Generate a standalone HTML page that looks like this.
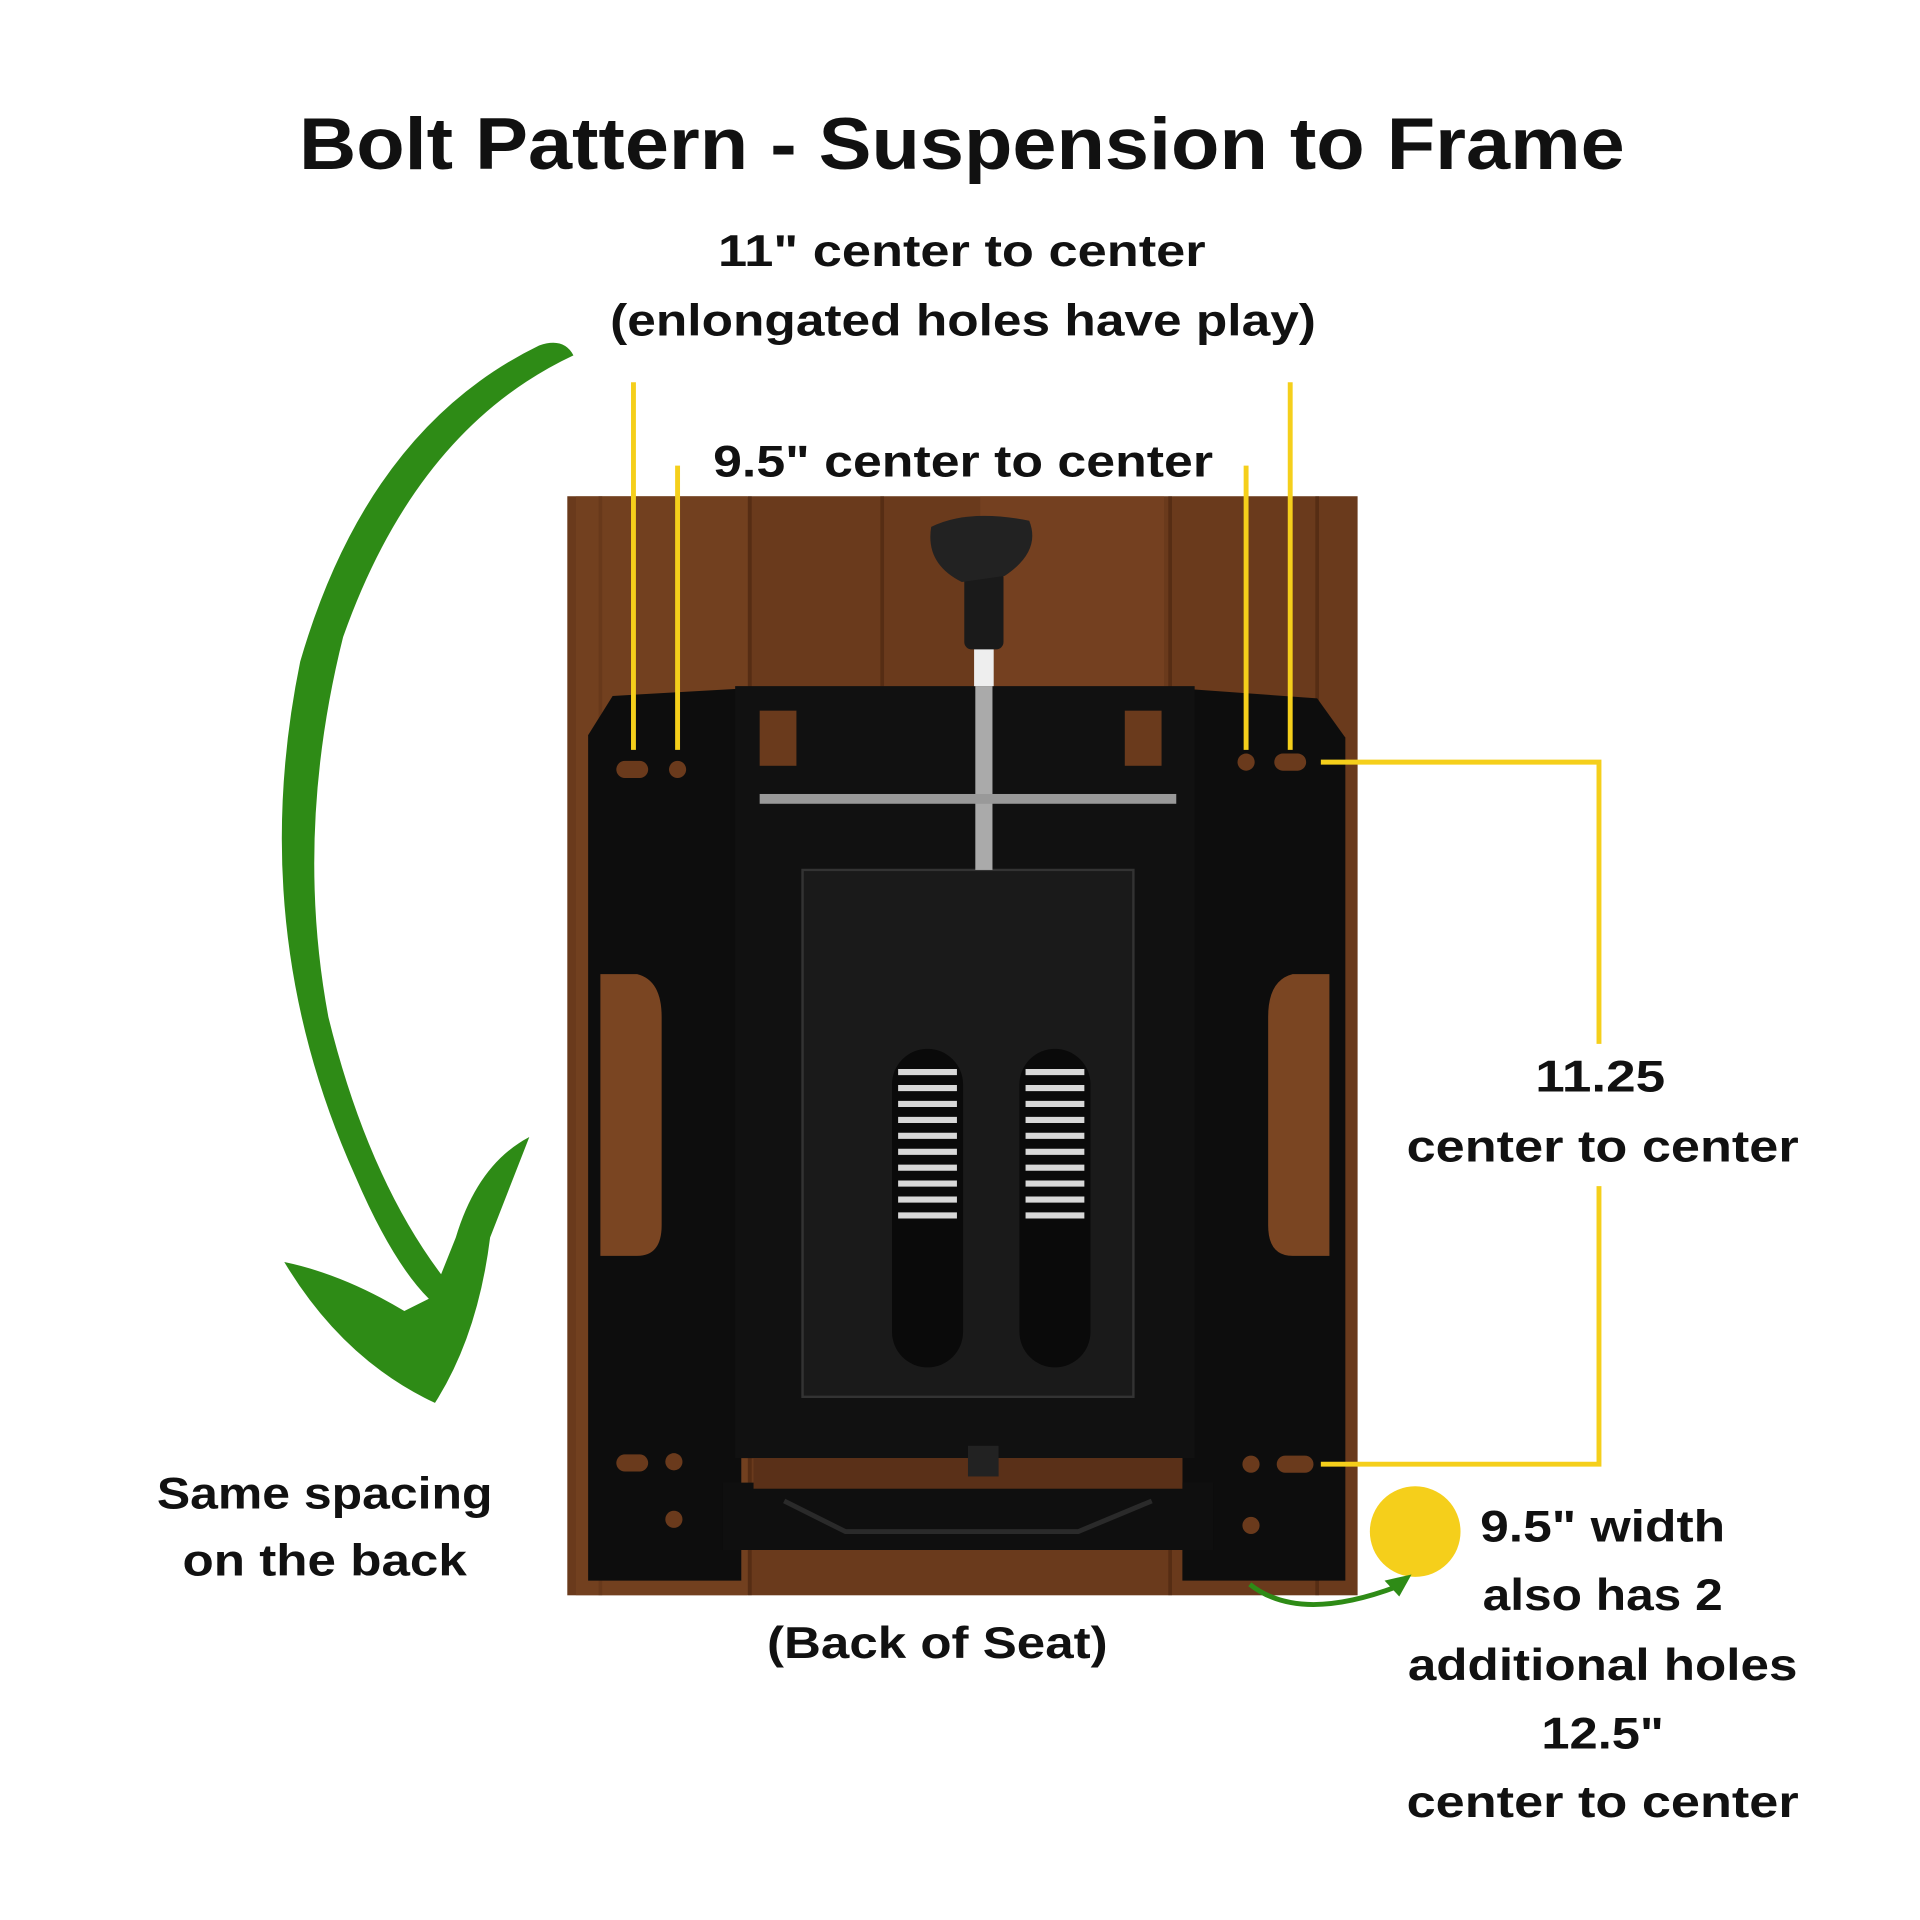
<!DOCTYPE html>
<html><head><meta charset="utf-8"><style>html,body{margin:0;padding:0;background:#fff}svg{display:block}</style></head>
<body>
<svg width="1920" height="1920" viewBox="0 0 1567 1567" xmlns="http://www.w3.org/2000/svg">
<rect width="1567" height="1567" fill="#fff"/>
<g font-family="Liberation Sans, DejaVu Sans, sans-serif" font-weight="bold" fill="#111" text-anchor="middle">
<text x="785" y="138" font-size="60" textLength="1082" lengthAdjust="spacingAndGlyphs">Bolt Pattern - Suspension to Frame</text>
<text x="785" y="217" font-size="36" textLength="398" lengthAdjust="spacingAndGlyphs">11" center to center</text>
<text x="786" y="274" font-size="36" textLength="576" lengthAdjust="spacingAndGlyphs">(enlongated holes have play)</text>
<text x="786" y="389" font-size="36" textLength="408" lengthAdjust="spacingAndGlyphs">9.5" center to center</text>
<text x="1306" y="891" font-size="36" textLength="106" lengthAdjust="spacingAndGlyphs">11.25</text>
<text x="1308" y="948" font-size="36" textLength="320" lengthAdjust="spacingAndGlyphs">center to center</text>
<text x="1308" y="1258" font-size="36" textLength="200" lengthAdjust="spacingAndGlyphs">9.5" width</text>
<text x="1308" y="1314" font-size="36" textLength="196" lengthAdjust="spacingAndGlyphs">also has 2</text>
<text x="1308" y="1371" font-size="36" textLength="318" lengthAdjust="spacingAndGlyphs">additional holes</text>
<text x="1308" y="1427" font-size="36" textLength="100" lengthAdjust="spacingAndGlyphs">12.5"</text>
<text x="1308" y="1483" font-size="36" textLength="320" lengthAdjust="spacingAndGlyphs">center to center</text>
<text x="765" y="1353" font-size="36" textLength="278" lengthAdjust="spacingAndGlyphs">(Back of Seat)</text>
<text x="265" y="1231" font-size="36" textLength="274" lengthAdjust="spacingAndGlyphs">Same spacing</text>
<text x="265" y="1286" font-size="36" textLength="232" lengthAdjust="spacingAndGlyphs">on the back</text>
</g>
<rect x="463" y="405" width="645" height="897" fill="#6a3a1c"/>
<g stroke="#4a2510" stroke-width="3" opacity="0.6">
<line x1="490" y1="405" x2="490" y2="1302"/><line x1="612" y1="405" x2="612" y2="1302"/>
<line x1="720" y1="405" x2="720" y2="560"/><line x1="955" y1="405" x2="955" y2="1302"/><line x1="1075" y1="405" x2="1075" y2="1302"/>
</g>
<rect x="470" y="405" width="140" height="897" fill="#7a4522" opacity="0.5"/>
<rect x="800" y="405" width="150" height="160" fill="#7d4624" opacity="0.5"/>
<path d="M480 600 L500 568 L605 562 L605 1290 L480 1290 Z" fill="#0d0d0d"/>
<path d="M965 562 L1075 570 L1098 602 L1098 1290 L965 1290 Z" fill="#0d0d0d"/>
<path d="M600 560 L975 560 L975 1190 L600 1190 Z" fill="#111"/>
<path d="M590 1210 L990 1210 L990 1265 L590 1265 Z" fill="#0f0f0f"/>
<path d="M640 1225 L690 1250 L880 1250 L940 1225" fill="none" stroke="#2a2a2a" stroke-width="4"/>
<rect x="615" y="1190" width="350" height="25" fill="#5a3018"/>
<path d="M490 795 L520 795 Q540 800 540 830 L540 1000 Q540 1025 520 1025 L490 1025 Z" fill="#7a4522"/>
<path d="M1085 795 L1055 795 Q1035 800 1035 830 L1035 1000 Q1035 1025 1055 1025 L1085 1025 Z" fill="#7a4522"/>
<rect x="620" y="580" width="30" height="45" fill="#6a3a1c"/><rect x="918" y="580" width="30" height="45" fill="#6a3a1c"/>
<path d="M655 710 L925 710 L925 1140 L655 1140 Z" fill="#1a1a1a" stroke="#333" stroke-width="2"/>
<rect x="728" y="856" width="58" height="260" rx="29" fill="#0a0a0a"/>
<rect x="832" y="856" width="58" height="260" rx="29" fill="#0a0a0a"/>
<g stroke="#d8d8d8" stroke-width="5">
<line x1="733" y1="875" x2="781" y2="875"/><line x1="733" y1="888" x2="781" y2="888"/><line x1="733" y1="901" x2="781" y2="901"/><line x1="733" y1="914" x2="781" y2="914"/><line x1="733" y1="927" x2="781" y2="927"/><line x1="733" y1="940" x2="781" y2="940"/><line x1="733" y1="953" x2="781" y2="953"/><line x1="733" y1="966" x2="781" y2="966"/><line x1="733" y1="979" x2="781" y2="979"/><line x1="733" y1="992" x2="781" y2="992"/>
<line x1="837" y1="875" x2="885" y2="875"/><line x1="837" y1="888" x2="885" y2="888"/><line x1="837" y1="901" x2="885" y2="901"/><line x1="837" y1="914" x2="885" y2="914"/><line x1="837" y1="927" x2="885" y2="927"/><line x1="837" y1="940" x2="885" y2="940"/><line x1="837" y1="953" x2="885" y2="953"/><line x1="837" y1="966" x2="885" y2="966"/><line x1="837" y1="979" x2="885" y2="979"/><line x1="837" y1="992" x2="885" y2="992"/>
</g>
<rect x="796" y="560" width="14" height="150" fill="#aaa"/>
<rect x="795" y="525" width="16" height="35" fill="#eee"/>
<rect x="787" y="465" width="32" height="65" rx="6" fill="#1a1a1a"/>
<path d="M760 430 Q790 415 840 425 Q850 450 820 470 L785 475 Q755 460 760 430 Z" fill="#222"/>
<rect x="620" y="648" width="340" height="8" fill="#999"/>
<rect x="790" y="1180" width="25" height="25" fill="#222"/>
<g fill="#6a3a1c">
<rect x="503" y="621" width="26" height="14" rx="7"/><circle cx="553" cy="628" r="7"/>
<circle cx="1017" cy="622" r="7"/><rect x="1040" y="615" width="26" height="14" rx="7"/>
<rect x="503" y="1187" width="26" height="14" rx="7"/><circle cx="550" cy="1193" r="7"/><circle cx="550" cy="1240" r="7"/>
<circle cx="1021" cy="1195" r="7"/><rect x="1042" y="1188" width="30" height="14" rx="7"/><circle cx="1021" cy="1245" r="7"/>
</g>
<g stroke="#f5cf1b" stroke-width="4" fill="none">
<line x1="517" y1="312" x2="517" y2="612"/><line x1="553" y1="380" x2="553" y2="612"/>
<line x1="1017" y1="380" x2="1017" y2="612"/><line x1="1053" y1="312" x2="1053" y2="612"/>
<polyline points="1078,622 1305,622 1305,852"/>
<polyline points="1305,968 1305,1195 1078,1195"/>
</g>
<circle cx="1155" cy="1250" r="37" fill="#f5cf1b"/>
<path d="M468 290 Q460 275 440 282 Q300 350 245 540 Q200 760 290 960 Q320 1030 350 1060 L330 1070 Q280 1040 232 1030 Q280 1110 355 1145 Q390 1090 400 1010 L432 928 Q390 950 372 1010 L360 1040 Q300 960 268 830 Q240 680 280 520 Q340 350 468 290 Z" fill="#2e8b16"/>
<path d="M1020 1293 Q1060 1325 1140 1295" fill="none" stroke="#2e8b16" stroke-width="4"/>
<path d="M1152 1285 L1130 1290 L1142 1303 Z" fill="#2e8b16"/>
</svg>
</body></html>
